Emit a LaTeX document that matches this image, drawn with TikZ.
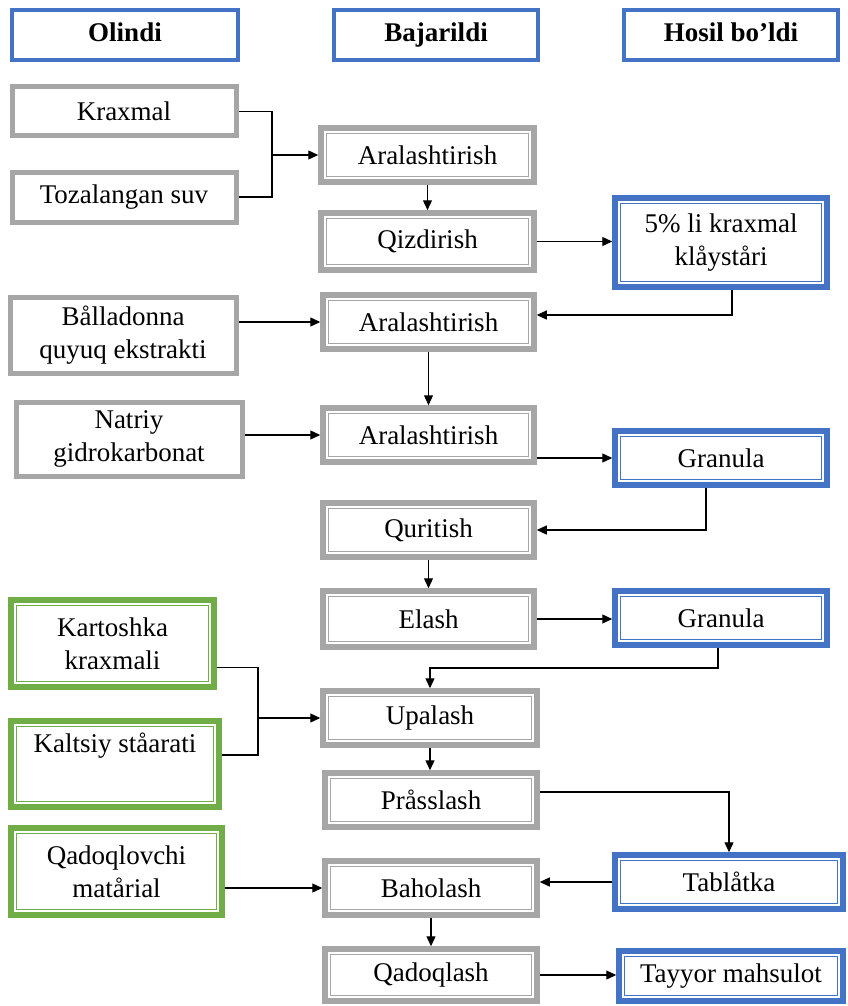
\documentclass[tikz,border=0pt]{standalone}
\usepackage{fontspec}
\setmainfont{Liberation Serif}
\usetikzlibrary{arrows.meta}

\definecolor{boxgray}{HTML}{A6A6A6}
\definecolor{boxblue}{HTML}{4472C4}
\definecolor{boxgreen}{HTML}{70AD47}

\tikzset{
  base/.style={rectangle, fill=white, align=center, inner sep=2pt,
    font=\fontsize{27}{33}\selectfont},
  plain/.style={base, draw=#1, line width=5pt},
  twin/.style={base, draw=#1, line width=5.5pt},
  head/.style={plain=boxblue, line width=4.5pt,
    font=\fontsize{27}{33}\selectfont\bfseries,
    execute at begin node=\strut},
  wire/.style={line width=1.3pt},
  link/.style={wire, -{Triangle[length=10pt,width=9pt]}},
}

% box from its border corners: style, name, x1, y1, x2, y2, text
\newcommand\bx[7]{%
  \node[#1, minimum width={#5-#3}, minimum height={#6-#4}]
    (#2) at ({(#3+#5)/2},{(#4+#6)/2}) {#7};}
% thin inner frame of a double-bordered box: name, colour
\newcommand\innerframe[2]{%
  \draw[#2, line width=1.1pt]
    ([shift={(8.1pt,-8.1pt)}]#1.north west) rectangle
    ([shift={(-8.1pt,8.1pt)}]#1.south east);}
% double-bordered box: colour, name, x1, y1, x2, y2, text
\newcommand\tb[7]{\bx{twin=#1}{#2}{#3}{#4}{#5}{#6}{#7}\innerframe{#2}{#1}}

\begin{document}
\begin{tikzpicture}[x=1pt,y=-1pt]
  \useasboundingbox[fill=white] (0,0) rectangle (848,1006);

  % column headers
  \bx{head}{hin}{12}{10}{238}{60}{Olindi}
  \bx{head}{hdo}{334}{10}{538}{60}{Bajarildi}
  \bx{head}{hout}{624}{10}{838}{60}{Hosil bo’ldi}

  % raw materials
  \bx{plain=boxgray}{krax}{12}{87}{236}{136}{Kraxmal}
  \bx{plain=boxgray}{suv}{12}{172}{236}{222}{Tozalangan suv}
  \bx{plain=boxgray}{bal}{10}{297}{236}{373}{Bålladonna\\quyuq ekstrakti}
  \bx{plain=boxgray}{nat}{16}{402}{242}{476}{Natriy\\gidrokarbonat}
  \tb{boxgreen}{kart}{11}{600}{214}{687}{Kartoshka\\kraxmali}
  \tb{boxgreen}{kal}{11}{721}{219}{807}{Kaltsiy ståarati\\\strut}
  \tb{boxgreen}{pack}{11}{828}{222}{915}{Qadoqlovchi\\matårial}

  % process steps
  \tb{boxgray}{a1}{321}{128}{534}{182}{Aralashtirish}
  \tb{boxgray}{qiz}{321}{213}{534}{270}{Qizdirish}
  \tb{boxgray}{a2}{323}{295}{534}{349}{Aralashtirish}
  \tb{boxgray}{a3}{323}{408}{534}{462}{Aralashtirish}
  \tb{boxgray}{qur}{323}{503}{534}{557}{Quritish}
  \tb{boxgray}{ela}{323}{591}{534}{647}{Elash}
  \tb{boxgray}{upa}{323}{691}{537}{745}{Upalash}
  \tb{boxgray}{pra}{325}{773}{537}{827}{Pråsslash}
  \tb{boxgray}{bah}{325}{861}{537}{915}{Baholash}
  \tb{boxgray}{qad}{325}{949}{537}{1001}{Qadoqlash}

  % intermediate and final products
  \tb{boxblue}{kle}{615}{198}{827}{287}{5\% li kraxmal\\klåyståri}
  \tb{boxblue}{gr1}{615}{431}{827}{485}{Granula}
  \tb{boxblue}{gr2}{615}{591}{827}{645}{Granula}
  \tb{boxblue}{tab}{615}{855}{843}{909}{Tablåtka}
  \tb{boxblue}{fin}{619}{951}{843}{1001}{Tayyor mahsulot}

  % helper coordinates for bends
  \coordinate (x272) at (272,0);
  \coordinate (x258) at (258,0);
  \coordinate (y668) at (0,668);

  % connectors
  \draw[wire] (krax.east) -| (x272 |- a1.west) |- (suv.east);
  \draw[link] (x272 |- a1.west) -- (a1.west);
  \draw[link] (a1.south) -- (qiz.north);
  \draw[link] (qiz.east) -- (qiz.east -| kle.west);
  \draw[link] ([xshift=11pt]kle.south) |- ([yshift=7pt]a2.east);
  \draw[link] (a2.west -| bal.east) -- (a2.west);
  \draw[link] (a2.south) -- (a2.south |- a3.north);
  \draw[link] (a3.west -| nat.east) -- (a3.west);
  \draw[link] (gr1.west -| a3.east) -- (gr1.west);
  \draw[link] ([xshift=-15pt]gr1.south) |- (qur.east);
  \draw[link] (qur.south) -- (ela.north);
  \draw[link] (ela.east) -- (ela.east -| gr2.west);
  \draw[link] ([xshift=-3pt]gr2.south) |- (y668 -| upa.north) -- (upa.north);
  \draw[wire] ([yshift=-24pt]kart.east) -| (x258 |- upa.west) |- ([yshift=9pt]kal.east);
  \draw[link] (x258 |- upa.west) -- (upa.west);
  \draw[link] (upa.south) -- (upa.south |- pra.north);
  \draw[link] ([yshift=8pt]pra.east) -| (tab.north);
  \draw[link] (tab.west) -- (tab.west -| bah.east);
  \draw[link] (bah.west -| pack.east) -- (bah.west);
  \draw[link] (bah.south) -- (qad.north);
  \draw[link] (qad.east) -- (qad.east -| fin.west);
\end{tikzpicture}
\end{document}
